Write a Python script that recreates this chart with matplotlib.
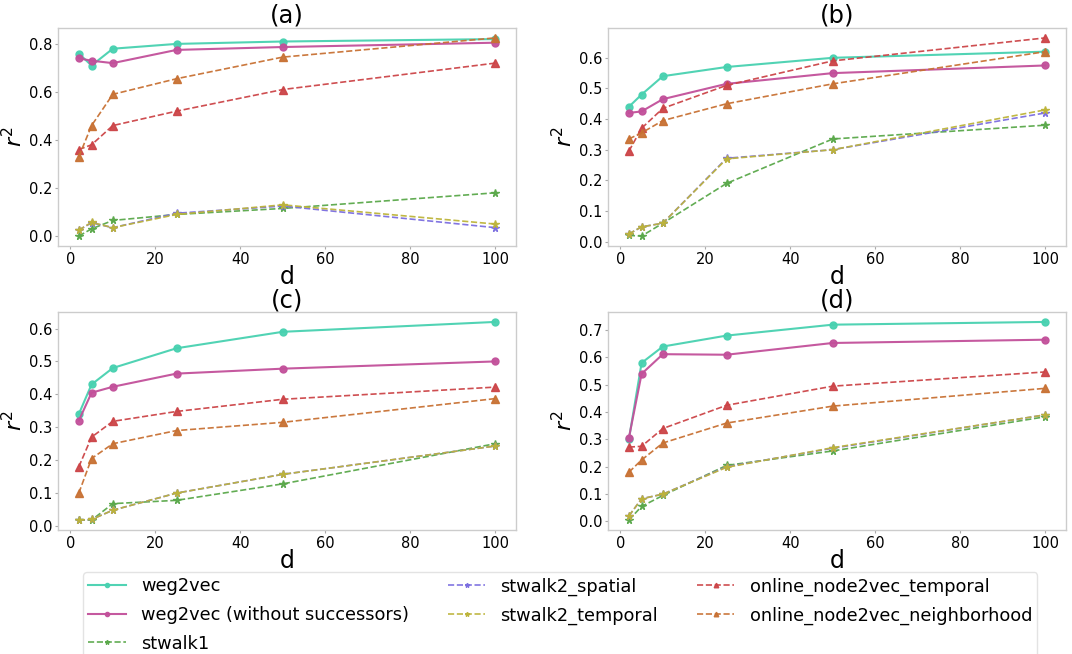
import numpy as np
import matplotlib
matplotlib.use("Agg")
import matplotlib.pyplot as plt
from matplotlib.ticker import MultipleLocator

# embedding dimensions
d = [2, 5, 10, 25, 50, 100]

methods = ['weg2vec', 'weg2vec (without successors)', 'stwalk1',
           'stwalk2_spatial', 'stwalk2_temporal',
           'online_node2vec_temporal', 'online_node2vec_neighborhood']

# r^2 values per panel, one list per method (same order as methods)
panel_a = [
    [0.76, 0.71, 0.78, 0.80, 0.81, 0.82],
    [0.74, 0.73, 0.72, 0.775, 0.787, 0.805],
    [0.00, 0.03, 0.065, 0.09, 0.115, 0.18],
    [0.025, 0.055, 0.035, 0.095, 0.125, 0.035],
    [0.025, 0.057, 0.035, 0.09, 0.13, 0.05],
    [0.36, 0.38, 0.46, 0.52, 0.61, 0.72],
    [0.33, 0.46, 0.59, 0.655, 0.745, 0.825],
]
panel_b = [
    [0.44, 0.48, 0.54, 0.57, 0.60, 0.62],
    [0.42, 0.425, 0.465, 0.515, 0.55, 0.575],
    [0.02, 0.018, 0.06, 0.19, 0.335, 0.38],
    [0.025, 0.048, 0.06, 0.272, 0.30, 0.42],
    [0.025, 0.048, 0.06, 0.27, 0.30, 0.43],
    [0.295, 0.37, 0.435, 0.51, 0.59, 0.665],
    [0.335, 0.355, 0.395, 0.45, 0.515, 0.62],
]
panel_c = [
    [0.34, 0.43, 0.48, 0.54, 0.59, 0.62],
    [0.32, 0.405, 0.423, 0.463, 0.478, 0.50],
    [0.018, 0.018, 0.068, 0.078, 0.128, 0.25],
    [0.018, 0.02, 0.048, 0.10, 0.157, 0.243],
    [0.018, 0.02, 0.048, 0.10, 0.157, 0.243],
    [0.18, 0.27, 0.318, 0.348, 0.385, 0.422],
    [0.10, 0.205, 0.25, 0.29, 0.315, 0.387],
]
panel_d = [
    [0.30, 0.58, 0.64, 0.68, 0.72, 0.73],
    [0.305, 0.54, 0.612, 0.61, 0.653, 0.665],
    [0.005, 0.055, 0.095, 0.205, 0.258, 0.383],
    [0.02, 0.083, 0.10, 0.20, 0.268, 0.39],
    [0.02, 0.083, 0.10, 0.198, 0.27, 0.39],
    [0.272, 0.275, 0.34, 0.425, 0.495, 0.547],
    [0.18, 0.225, 0.287, 0.36, 0.422, 0.487],
]
panels = [('(a)', panel_a, 0.2), ('(b)', panel_b, 0.1),
          ('(c)', panel_c, 0.1), ('(d)', panel_d, 0.1)]

colors = ['#48d1b0', '#c2509a', '#5aa84a', '#7b6ee0', '#bdb43a',
          '#cc4447', '#c87133']
markers = ['o', 'o', '*', '*', '*', '^', '^']
styles = ['-', '-', '--', '--', '--', '--', '--']

fig = plt.figure(figsize=(10.72, 6.54), dpi=100)
rects = [[0.0541, 0.6239, 0.4272, 0.3333], [0.5672, 0.6239, 0.4272, 0.3333],
         [0.0541, 0.1896, 0.4272, 0.3333], [0.5672, 0.1896, 0.4272, 0.3333]]

for rect, (title, data, step) in zip(rects, panels):
    ax = fig.add_axes(rect)
    for i, name in enumerate(methods):
        ax.plot(d, data[i], linestyle=styles[i], marker=markers[i],
                color=colors[i], label=name,
                lw=1.5 if styles[i] == '-' else 1.2,
                ms=5 if markers[i] == 'o' else 5.5, alpha=0.95)
    ax.set_title(title, fontsize=17.5, pad=1)
    ax.set_xlabel('d', fontsize=17, labelpad=-1)
    ax.set_ylabel('$r^2$', fontsize=16, labelpad=2)
    ax.yaxis.set_major_locator(MultipleLocator(step))
    ax.tick_params(labelsize=10.5, length=2, color='#aaaaaa', pad=2)
    for s in ax.spines.values():
        s.set_color('#cccccc')
        s.set_linewidth(1.0)
    ax.set_xticks([0, 20, 40, 60, 80, 100])

handles, labels = ax.get_legend_handles_labels()
leg = fig.legend(handles, labels, loc='upper left', ncol=3, fontsize=12.8,
                 bbox_to_anchor=(83 / 1072, 1 - 572 / 654),
                 frameon=True, handlelength=2.1, handletextpad=0.85,
                 markerscale=0.6, labelspacing=0.6, columnspacing=2.2,
                 borderpad=0.3, borderaxespad=0)
leg.get_frame().set_edgecolor('#dddddd')

fig.savefig('out.png', dpi=100)
